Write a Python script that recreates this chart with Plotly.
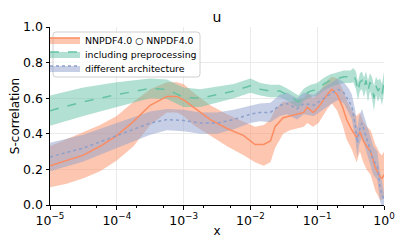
import plotly.graph_objects as go

# ---- data (log10 x positions, central values, band limits) ----
nn_logx = [-5, -4.75, -4.5, -4.25, -4, -3.75, -3.5, -3.25, -3.1, -3.0, -2.85, -2.6, -2.35, -2.1,
           -1.93, -1.8, -1.7, -1.63, -1.51, -1.41, -1.3, -1.2, -1.15, -1.06, -0.98, -0.91, -0.85,
           -0.78, -0.7, -0.62, -0.56, -0.48, -0.41, -0.36, -0.31, -0.26, -0.2, -0.13, -0.06, -0.03, 0]
nn_mid = [0.22, 0.25, 0.28, 0.33, 0.39, 0.47, 0.56, 0.61, 0.61, 0.59, 0.55, 0.48, 0.43, 0.39,
          0.34, 0.34, 0.36, 0.44, 0.49, 0.50, 0.51, 0.52, 0.55, 0.52, 0.55, 0.59, 0.62,
          0.65, 0.62, 0.55, 0.48, 0.42, 0.38, 0.41, 0.36, 0.33, 0.30, 0.21, 0.16, 0.15, 0.17]
nn_lo = [0.10, 0.12, 0.15, 0.19, 0.25, 0.33, 0.45, 0.52, 0.52, 0.50, 0.45, 0.39, 0.33, 0.28,
         0.24, 0.22, 0.24, 0.32, 0.40, 0.42, 0.43, 0.44, 0.46, 0.44, 0.46, 0.50, 0.54,
         0.57, 0.53, 0.45, 0.37, 0.31, 0.24, 0.30, 0.24, 0.20, 0.17, 0.08, 0.03, 0.03, 0.04]
nn_hi = [0.33, 0.37, 0.41, 0.45, 0.50, 0.58, 0.65, 0.69, 0.69, 0.68, 0.63, 0.56, 0.51, 0.47,
         0.44, 0.45, 0.48, 0.54, 0.58, 0.58, 0.59, 0.60, 0.63, 0.60, 0.63, 0.67, 0.70,
         0.72, 0.71, 0.65, 0.59, 0.53, 0.50, 0.52, 0.47, 0.44, 0.42, 0.34, 0.29, 0.28, 0.30]

pre_logx = [-5, -4.5, -4, -3.5, -3.25, -3.0, -2.75, -2.5, -2.25, -2.0, -1.85, -1.7, -1.56, -1.45,
            -1.36, -1.28, -1.2, -1.1, -1.0, -0.9, -0.8, -0.7, -0.6, -0.5, -0.46, -0.42, -0.39,
            -0.36, -0.33, -0.3, -0.27, -0.24, -0.21, -0.18, -0.15, -0.12, -0.09, -0.06, -0.03, 0]
pre_mid = [0.53, 0.58, 0.62, 0.655, 0.65, 0.605, 0.60, 0.62, 0.64, 0.67, 0.65, 0.64, 0.64, 0.62,
           0.60, 0.58, 0.62, 0.64, 0.65, 0.68, 0.70, 0.71, 0.72, 0.72, 0.73, 0.70, 0.64,
           0.69, 0.70, 0.66, 0.70, 0.64, 0.69, 0.66, 0.60, 0.67, 0.64, 0.66, 0.62, 0.69]
pre_err = [0.085, 0.08, 0.07, 0.055, 0.055, 0.055, 0.05, 0.045, 0.04, 0.04, 0.035, 0.035, 0.035, 0.035,
           0.035, 0.035, 0.035, 0.035, 0.035, 0.035, 0.035, 0.035, 0.035, 0.035, 0.04, 0.05, 0.05,
           0.05, 0.05, 0.055, 0.05, 0.06, 0.05, 0.06, 0.07, 0.05, 0.06, 0.05, 0.06, 0.06]

arc_logx = [-5, -4.5, -4, -3.5, -3.25, -3.0, -2.75, -2.5, -2.25, -2.0, -1.86, -1.7, -1.56, -1.45,
            -1.3, -1.2, -1.05, -0.9, -0.78, -0.69, -0.6, -0.52, -0.48, -0.43, -0.4, -0.37, -0.33,
            -0.28, -0.22, -0.16, -0.1, -0.06, -0.03, 0]
arc_mid = [0.27, 0.32, 0.39, 0.46, 0.48, 0.475, 0.46, 0.46, 0.48, 0.51, 0.52, 0.52, 0.56, 0.57,
           0.54, 0.57, 0.56, 0.60, 0.63, 0.65, 0.63, 0.58, 0.55, 0.45, 0.35, 0.42, 0.46,
           0.40, 0.32, 0.25, 0.22, 0.10, 0.06, 0.03]
arc_err = [0.08, 0.075, 0.07, 0.065, 0.06, 0.06, 0.06, 0.06, 0.055, 0.05, 0.05, 0.055, 0.06, 0.06,
           0.06, 0.06, 0.06, 0.06, 0.06, 0.06, 0.06, 0.07, 0.07, 0.08, 0.08, 0.08, 0.08,
           0.08, 0.08, 0.08, 0.08, 0.08, 0.07, 0.04]

labels = ["NNPDF4.0 \u25cb NNPDF4.0", "including preprocessing", "different architecture"]
tick_exp = [-5, -4, -3, -2, -1, 0]
tick_text = ["10<sup>\u22125</sup>", "10<sup>\u22124</sup>", "10<sup>\u22123</sup>",
             "10<sup>\u22122</sup>", "10<sup>\u22121</sup>", "10<sup>0</sup>"]
y_ticks = [0, 0.2, 0.4, 0.6, 0.8, 1.0]
y_ticktext = ["0.0", "0.2", "0.4", "0.6", "0.8", "1.0"]

colors = ["#fc8d62", "#66c2a5", "#8da0cb"]
fills = ["rgba(252,141,98,0.5)", "rgba(102,194,165,0.5)", "rgba(141,160,203,0.5)"]
dashes = ["solid", "dash", "dot"]

# the page body has an 8px default margin, so the figure is drawn 8px in from the corner
OFF = 8
W, H = 407 - OFF, 250 - OFF
ML, MR, MT, MB = 50 - OFF, 23, 27 - OFF, 45
PW, PH = W - ML - MR, H - MT - MB


def tox(lx):
    return [10 ** v for v in lx]


def px_to_paper_x(px):  # px measured in the 407x250 window
    return (px - OFF - ML) / PW


def px_to_paper_y(py):
    return (H - MB - (py - OFF)) / PH


series = [
    (nn_logx, nn_mid, nn_lo, nn_hi),
    (pre_logx, pre_mid, [m - e for m, e in zip(pre_mid, pre_err)], [m + e for m, e in zip(pre_mid, pre_err)]),
    (arc_logx, arc_mid, [m - e for m, e in zip(arc_mid, arc_err)], [m + e for m, e in zip(arc_mid, arc_err)]),
]

fig = go.Figure()
for i, (lx, mid, lo, hi) in enumerate(series):
    xs = tox(lx)
    fig.add_trace(go.Scatter(x=xs, y=lo, mode="lines", line=dict(width=0, color=colors[i]),
                             showlegend=False, hoverinfo="skip"))
    fig.add_trace(go.Scatter(x=xs, y=hi, mode="lines", line=dict(width=0, color=colors[i]),
                             fill="tonexty", fillcolor=fills[i], showlegend=False, hoverinfo="skip"))
for i, (lx, mid, lo, hi) in enumerate(series):
    fig.add_trace(go.Scatter(x=tox(lx), y=mid, mode="lines",
                             line=dict(color=colors[i], width=1.5, dash=dashes[i]),
                             showlegend=False))

font = "DejaVu Sans"
legend_ids = ["legend", "legend2", "legend3"]
row_px = [40, 54, 68]
legend_layouts = {}
for i in range(3):
    fig.add_trace(go.Scatter(x=[None], y=[None], mode="lines", name=labels[i],
                             fill="toself", fillcolor=fills[i], legend=legend_ids[i],
                             line=dict(color=colors[i], width=1.5, dash=dashes[i])))
    legend_layouts[legend_ids[i]] = dict(
        x=px_to_paper_x(45), y=px_to_paper_y(row_px[i]), xanchor="left", yanchor="middle",
        bgcolor="rgba(0,0,0,0)", borderwidth=0, font=dict(size=9.4, family=font),
        itemwidth=30)

# legend frame (rounded rectangle)
x0, x1 = px_to_paper_x(53), px_to_paper_x(200)
y0, y1 = px_to_paper_y(77), px_to_paper_y(32)
rx, ry = 3 / PW, 3 / PH
path = (f"M{x0+rx},{y0} L{x1-rx},{y0} Q{x1},{y0} {x1},{y0+ry} L{x1},{y1-ry} Q{x1},{y1} {x1-rx},{y1} "
        f"L{x0+rx},{y1} Q{x0},{y1} {x0},{y1-ry} L{x0},{y0+ry} Q{x0},{y0} {x0+rx},{y0} Z")
fig.add_shape(type="path", path=path, xref="paper", yref="paper",
              fillcolor="rgba(255,255,255,0.8)", line=dict(color="#d0d0d0", width=1), layer="above")

fig.update_layout(
    width=W, height=H,
    margin=dict(l=ML, r=MR, t=MT, b=MB),
    paper_bgcolor="white", plot_bgcolor="white",
    font=dict(family=font, size=12, color="black"),
    title=dict(text="u", x=(ML + PW / 2) / W, xanchor="center", yref="container",
               y=1 - (17 - OFF) / H, yanchor="middle", font=dict(size=14, family=font)),
    xaxis=dict(type="log", range=[-5, 0], tickvals=[10 ** e for e in tick_exp], ticktext=tick_text,
               showline=True, linecolor="black", linewidth=1, ticks="outside", ticklen=3.5,
               tickcolor="black", showgrid=True, gridcolor="#ebebeb", gridwidth=0.8,
               mirror=False, zeroline=False, tickfont=dict(size=12.5), automargin=False,
               minor=dict(ticks="outside", ticklen=2, tickcolor="black", showgrid=False),
               title=dict(text="x", standoff=0, font=dict(size=12))),
    yaxis=dict(range=[0, 1], tickvals=y_ticks, ticktext=y_ticktext,
               showline=True, linecolor="black", linewidth=1, ticks="outside", ticklen=3.5,
               tickcolor="black", showgrid=True, gridcolor="#ebebeb", gridwidth=0.8,
               zeroline=False, tickfont=dict(size=12.5), automargin=False,
               title=dict(text="S-correlation", standoff=2, font=dict(size=12))),
    **legend_layouts,
)

fig.write_html("out.html", config={"displayModeBar": False})
